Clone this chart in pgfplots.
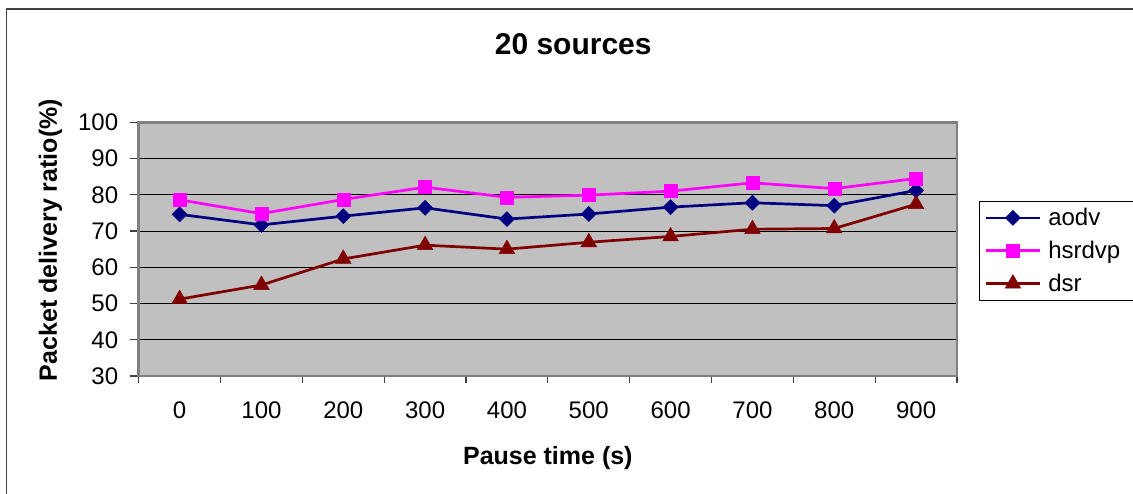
\documentclass[border=0pt]{standalone}
\usepackage{fontspec}
\setmainfont{Liberation Sans}
\usepackage{pgfplots}
\pgfplotsset{compat=1.18}
\definecolor{bggray}{RGB}{192,192,192}
\definecolor{aodvc}{RGB}{0,0,128}
\definecolor{hsrc}{RGB}{255,0,255}
\definecolor{dsrc}{RGB}{128,0,0}
\begin{document}
\begin{tikzpicture}[x=1pt,y=1pt]
\useasboundingbox (0,0) rectangle (1133,493);
\draw[line width=1.4pt, black!75] (6.7,-10) -- (6.7,484) -- (1145,484);
\begin{axis}[
  at={(138.7pt,117pt)}, anchor=south west,
  scale only axis, width=818.3pt, height=253.7pt,
  xmin=-0.5, xmax=9.5, ymin=30, ymax=100,
  ytick={30,40,...,100},
  xtick={0,...,9}, xticklabels={0,100,200,300,400,500,600,700,800,900},
  minor xtick={-0.5,0.5,...,9.5},
  major x tick style={draw=none},
  tick align=outside, xtick pos=bottom, ytick pos=left,
  major tick length=9pt, minor tick length=7pt,
  axis background/.style={fill=bggray},
  axis line style={draw=black!50, line width=2.5pt},
  ymajorgrids, major grid style={black, line width=1pt},
  tick style={black!75, line width=1.2pt},
  /pgf/number format/assume math mode=true,
  tick label style={font=\fontsize{24}{28}\selectfont},
  yticklabel style={xshift=-8pt},
  xticklabel style={yshift=-13pt},
  title={\textbf{20 sources}},
  title style={font=\fontsize{30}{34}\selectfont, at={(axis description cs:0.531,1.285)}, anchor=center},
  xlabel={\textbf{Pause time (s)}},
  xlabel style={font=\fontsize{25}{29}\selectfont, at={(axis description cs:0.5,-0.323)}, anchor=center},
  ylabel={\textbf{Packet delivery ratio(\%)}},
  ylabel style={font=\fontsize{25}{29}\selectfont, at={(axis description cs:-0.108,0.536)}, anchor=center, rotate=0},
  legend style={at={(axis description cs:1.027,0.69)}, anchor=north west, draw=black, line width=1pt, fill=white,
    font=\fontsize{24}{28}\selectfont, legend cell align=left, row sep=10pt, inner sep=5pt,
    /tikz/every odd column/.append style={column sep=5pt}},
  legend image code/.code={\draw[#1, mark repeat=2, mark phase=2] plot coordinates {(0pt,0pt) (27pt,0pt) (54pt,0pt)};},
]
\addplot[aodvc, line width=2.7pt, mark=square*, mark size=5.3pt, mark options={rotate=45, solid, line width=0.5pt}]
 coordinates {(0,74.6) (1,71.7) (2,74.1) (3,76.4) (4,73.3) (5,74.7) (6,76.6) (7,77.8) (8,77.0) (9,81.2)};
\addlegendentry{\makebox[90pt][l]{aodv}}
\addplot[hsrc, line width=2.7pt, mark=square*, mark size=6.5pt, mark options={solid, line width=0.5pt}]
 coordinates {(0,78.6) (1,74.8) (2,78.7) (3,82.1) (4,79.3) (5,79.9) (6,81.0) (7,83.3) (8,81.7) (9,84.5)};
\addlegendentry{\makebox[90pt][l]{hsrdvp}}
\addplot[dsrc, line width=2.7pt, mark=triangle*, mark size=9pt, mark options={solid, line width=0.5pt}]
 coordinates {(0,51.2) (1,55.1) (2,62.3) (3,66.1) (4,65.0) (5,66.9) (6,68.5) (7,70.5) (8,70.7) (9,77.4)};
\addlegendentry{\makebox[90pt][l]{dsr}}
\end{axis}
\end{tikzpicture}
\end{document}
